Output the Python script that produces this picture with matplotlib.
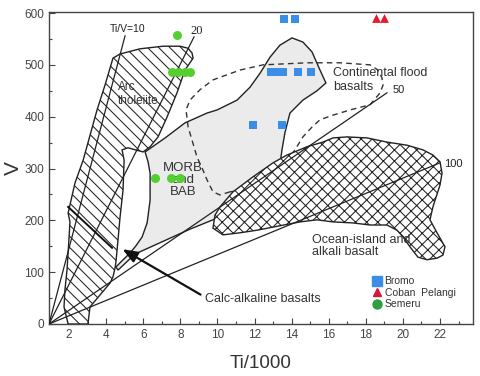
import matplotlib
matplotlib.use("Agg")
import matplotlib.pyplot as plt
from matplotlib.patches import Polygon
from matplotlib.lines import Line2D

plt.rcParams['font.family'] = ['Liberation Sans', 'DejaVu Sans']
plt.rcParams['hatch.linewidth'] = 0.75

# ---- sample data (Ti/1000, V) ----
bromo_ti = [13.59, 14.18, 12.89, 13.21, 13.54, 14.35, 15.05, 11.92, 13.48]
bromo_v = [588, 588, 486, 486, 486, 486, 486, 384, 384]
coban_ti = [18.55, 18.98]
coban_v = [590, 590]
semeru_ti = [7.82, 7.55, 7.87, 8.25, 8.52, 6.64, 7.50, 7.98]
semeru_v = [558, 486, 486, 486, 486, 282, 282, 282]

# ---- field outlines (Ti/1000, V) ----
arc_field = [
    (4.37, 513), (4.75, 521), (5.83, 531), (7.07, 536), (7.98, 536), (8.42, 532),
    (8.63, 523), (8.69, 513), (8.52, 504), (8.25, 490), (7.82, 446), (7.28, 399),
    (6.80, 361), (6.37, 342), (5.99, 332), (5.18, 340), (4.86, 336), (4.97, 316),
    (4.91, 258), (4.75, 206), (4.64, 162), (4.53, 120), (4.48, 108), (4.37, 91),
    (4.21, 79), (3.67, 56), (3.13, 33), (3.02, 0), (1.95, 0), (1.73, 33),
    (1.78, 66), (1.89, 104), (2.00, 166), (2.05, 197), (1.95, 214), (2.32, 272),
    (2.76, 316), (3.51, 413), (3.94, 461),
]
morb_field = [
    (6.10, 332), (7.18, 359), (8.25, 388), (9.44, 407), (9.98, 413), (11.06, 432),
    (11.76, 457), (12.30, 484), (12.84, 515), (13.37, 538), (14.02, 552), (14.61, 544),
    (15.10, 525), (15.53, 490), (15.85, 465), (15.37, 450), (14.61, 432), (13.91, 407),
    (13.64, 369), (13.48, 336), (13.37, 307), (13.11, 268), (12.57, 239), (11.22, 220),
    (9.76, 201), (8.52, 183), (5.56, 135), (4.64, 104), (4.53, 110), (4.86, 122),
    (5.29, 137), (5.61, 151), (5.94, 168), (6.21, 195), (6.37, 239), (6.37, 291),
    (6.26, 313),
]
oib_field = [
    (9.76, 185), (9.87, 210), (10.14, 226), (10.84, 255), (11.92, 284), (13.00, 311),
    (13.75, 326), (14.83, 342), (15.69, 351), (16.23, 359), (16.99, 361), (18.07, 359),
    (19.14, 351), (20.22, 345), (21.08, 336), (21.62, 326), (22.00, 313), (22.11, 291),
    (22.00, 268), (21.62, 226), (21.46, 201), (21.84, 176), (22.27, 149), (22.16, 133),
    (21.84, 127), (21.30, 124), (20.81, 129), (20.38, 149), (20.01, 168), (19.68, 181),
    (19.14, 191), (18.23, 191), (17.31, 195), (16.23, 197), (15.37, 201), (14.45, 197),
    (13.00, 187), (12.14, 181), (11.22, 176), (10.30, 172),
]
cfb_field = [
    (10.68, 255), (10.14, 249), (9.76, 255), (9.44, 278), (9.22, 297), (8.90, 322),
    (8.63, 355), (8.42, 380), (8.31, 413), (8.52, 432), (9.06, 452), (9.76, 471),
    (11.22, 490), (12.46, 500), (14.83, 504), (16.61, 504), (18.23, 500), (18.66, 490),
    (18.87, 475), (18.93, 461), (18.77, 446), (18.23, 423), (17.15, 413), (16.23, 403),
    (15.53, 394), (15.10, 380), (14.61, 361), (14.18, 336), (13.64, 311), (13.11, 282),
    (12.30, 266), (11.49, 259), (10.68, 255),
]

# Ti/V ratio lines: start at the axis corner, end points
origin = (0.92, 0)
ratio_ends = {'10': (5.02, 556), '20': (8.74, 554), '50': (19.14, 446), '100': (22.0, 311)}

fig = plt.figure(figsize=(4.8, 3.76), dpi=100)
ax = fig.add_axes([49 / 480, 52 / 376, 424 / 480, 312 / 376])

ax.add_patch(Polygon(morb_field, closed=True, facecolor='#ebebeb', edgecolor='#222222', lw=1.0, zorder=1))
ax.add_patch(Polygon(cfb_field, closed=True, fill=False, edgecolor='#333333', lw=1.0, ls=(0, (4, 3)), zorder=2))
ax.add_patch(Polygon(oib_field, closed=True, facecolor='white', edgecolor='#222222', lw=1.0, hatch='xxx', zorder=3))
ax.add_patch(Polygon(arc_field, closed=True, facecolor='white', edgecolor='#222222', lw=1.0, hatch='\\\\\\', zorder=3))

for k, (x1, y1) in ratio_ends.items():
    ax.plot([origin[0], x1], [origin[1], y1], color='#222222', lw=0.9, zorder=4)
ax.plot([1.95, 4.32], [226, 147], color='#111111', lw=1.4, zorder=4)

# labels
ax.text(5.18, 569, 'Ti/V=10', fontsize=7.5, ha='center', va='center', color='#222', zorder=5)
ax.text(8.9, 565, '20', fontsize=9, ha='center', va='center', family='Liberation Serif', color='#222', zorder=5)
ax.text(19.79, 451, '50', fontsize=8, ha='center', va='center', color='#222', zorder=5)
ax.text(22.7, 309, '100', fontsize=8, ha='center', va='center', color='#222', zorder=5)
ax.text(4.64, 444, 'Arc\ntholeiite', fontsize=8.5, ha='left', va='center', color='#333', linespacing=1.2, zorder=5)
ax.text(8.15, 278, 'MORB\nand\nBAB', fontsize=9.5, ha='center', va='center', color='#333', linespacing=1.0, zorder=5)
ax.text(16.23, 484, 'Continental flood', fontsize=9, ha='left', va='center', color='#333', zorder=5)
ax.text(16.23, 457, 'basalts', fontsize=9, ha='left', va='center', color='#333', zorder=5)
ax.text(15.1, 150, 'Ocean-island and\nalkali basalt', fontsize=9, ha='left', va='center', color='#333', linespacing=1.05, zorder=5)
ax.text(9.33, 48, 'Calc-alkaline basalts', fontsize=9, ha='left', va='center', color='#333', zorder=5)
ax.annotate('', xy=(4.75, 147), xytext=(9.22, 54),
            arrowprops=dict(arrowstyle='-|>,head_length=0.9,head_width=0.35', color='#111', lw=1.6),
            zorder=5)

# samples
ax.scatter(bromo_ti, bromo_v, marker='s', s=38, color='#3a8ee6', zorder=6, linewidths=0)
ax.scatter(coban_ti, coban_v, marker='^', s=40, color='#e8192c', zorder=6, linewidths=0)
ax.scatter(semeru_ti, semeru_v, marker='o', s=42, color='#55cf2f', zorder=6, linewidths=0)

handles = [
    Line2D([], [], ls='none', marker='s', markersize=6.5, color='#3a8ee6'),
    Line2D([], [], ls='none', marker='^', markersize=6, color='#d6183b'),
    Line2D([], [], ls='none', marker='o', markersize=6.5, color='#2e9e3e'),
]
leg = ax.legend(handles, ['Bromo', 'Coban  Pelangi', 'Semeru'], loc='upper left',
                bbox_to_anchor=(0.752, 0.17), frameon=False, fontsize=7.5,
                handlelength=0.8, handletextpad=0.3, labelspacing=0.15, borderpad=0)
for t in leg.get_texts():
    t.set_color('#333')

ax.set_xlim(0.92, 23.78)
ax.set_ylim(0, 602)
ax.set_xticks(range(2, 23, 2))
ax.set_xticks(range(1, 24, 2), minor=True)
ax.set_yticks(range(0, 601, 100))
ax.set_yticks(range(50, 601, 100), minor=True)
ax.tick_params(which='both', direction='in', colors='#444', labelsize=8.5, width=0.8)
ax.tick_params(which='major', length=4)
ax.tick_params(which='minor', length=2.5)
for s in ax.spines.values():
    s.set_color('#444')
    s.set_linewidth(1.0)

ax.set_xlabel('Ti/1000', fontsize=13.5, color='#333', labelpad=10)
ax.set_ylabel('V', fontsize=15, color='#333', rotation=90, va='center')
ax.yaxis.set_label_coords(-0.085, 0.5)

fig.savefig('out.png', dpi=100)
